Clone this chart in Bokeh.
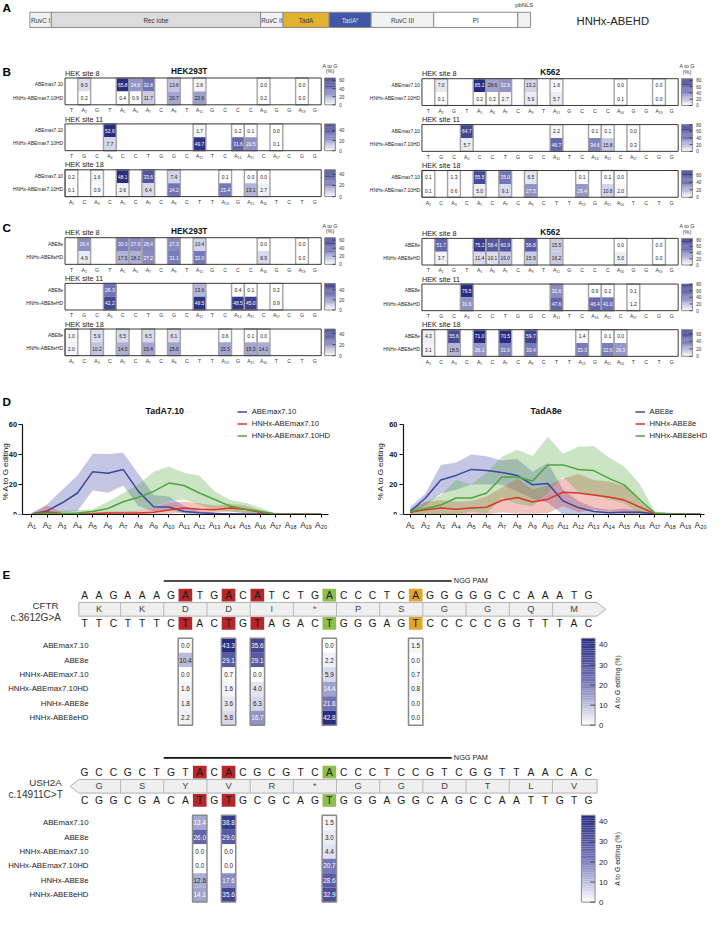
import math
from bokeh.plotting import figure
from bokeh.models import Range1d, FixedTicker, Legend, LegendItem, Label, ColumnDataSource
from bokeh.layouts import column, row
from bokeh.core.properties import value
from bokeh.embed import file_html
from bokeh.resources import INLINE

# ======================= DATA =======================
# Panel A: construct schematic
domain_names = ["RuvC I", "Rec lobe", "RuvC II", "TadA", "TadA*", "RuvC III", "PI", ""]
domain_lengths = [22, 214, 23, 47, 43, 64, 86, 13]
domain_colors = ["#f2f2f2", "#dcdcdc", "#f2f2f2", "#e2b12f", "#3f57a6", "#f2f2f2", "#ffffff", "#f2f2f2"]
construct_name = "HNHx-ABEHD"

# Panels B/C: target sites
site_names = ["HEK site 8", "HEK site 11", "HEK site 18"]
site_seqs = ["TAGTAAACATAGCCCAGGAG", "TGCACCTGGCATCAACACGG", "ACACACACACTTAGAATCTG"]

b_rows = ["ABEmax7.10", "HNHx-ABEmax7.10HD"]
c_rows = ["ABE8e", "HNHx-ABE8eHD"]

b_hek293t_abemax = [[8.0, 65.8, 24.8, 32.8, 13.6, 2.8, 0.0, 0.0],
                    [52.6, 1.7, 0.2, 0.1, 0.0],
                    [0.2, 1.6, 48.1, 33.6, 7.4, 0.1, 0.0, 0.0]]
b_hek293t_hd = [[0.2, 0.4, 0.9, 11.7, 20.7, 22.6, 0.2, 0.0],
                [7.7, 49.7, 31.6, 20.5, 0.1],
                [0.1, 0.9, 2.6, 6.4, 24.2, 23.4, 13.1, 2.7]]
b_k562_abemax = [[7.0, 85.2, 28.6, 32.8, 13.2, 1.8, 0.0, 0.0],
                 [64.7, 2.2, 0.1, 0.1, 0.0],
                 [0.1, 1.3, 55.5, 35.0, 6.5, 0.1, 0.1, 0.0]]
b_k562_hd = [[0.1, 0.2, 0.3, 2.7, 5.9, 5.7, 0.1, 0.0],
             [5.7, 46.7, 34.6, 15.8, 0.3],
             [0.1, 0.6, 5.0, 9.1, 27.5, 26.4, 10.8, 2.0]]
c_hek293t_abe8e = [[26.4, 30.3, 27.9, 28.4, 27.3, 10.4, 0.0, 0.0],
                   [26.3, 13.6, 0.4, 0.1, 0.2],
                   [1.0, 5.9, 6.5, 6.5, 6.1, 0.6, 0.1, 0.0]]
c_hek293t_hd = [[4.9, 17.5, 18.2, 27.2, 31.1, 32.0, 8.9, 0.0],
                [42.2, 49.5, 48.5, 45.0, 0.9],
                [2.0, 10.2, 14.0, 15.4, 15.6, 15.5, 15.3, 14.1]]
c_k562_abe8e = [[51.7, 75.2, 58.4, 60.9, 56.8, 15.5, 0.0, 0.0],
                [79.5, 32.6, 0.9, 0.2, 0.1],
                [4.3, 55.6, 71.0, 70.5, 59.7, 1.4, 0.1, 0.0]]
c_k562_hd = [[3.7, 11.4, 10.1, 16.0, 15.9, 16.2, 5.0, 0.0],
             [31.6, 47.6, 46.4, 41.0, 1.2],
             [3.1, 18.5, 26.1, 32.6, 33.4, 33.3, 32.6, 26.3]]

# Panel D: editing windows (mean with range band)
d_positions = [1, 2, 3, 4, 5, 6, 7, 8, 9, 10, 11, 12, 13, 14, 15, 16, 17, 18, 19, 20]
t7_abemax_mean = [0.4, 2.4, 7.8, 14.3, 28.5, 27.4, 30.0, 15.4, 5.2, 5.0, 2.0, 1.1, 0.6, 0.5, 0.4, 0.3, 0.2, 0.2, 0.1, 0.1]
t7_abemax_low = [0.0, 0.0, 1.3, 2.4, 16.0, 14.5, 19.3, 5.6, 2.0, 3.5, 0.5, 0.2, 0.1, 0.1, 0.1, 0.0, 0.0, 0.0, 0.0, 0.0]
t7_abemax_high = [1.0, 6.7, 16.5, 26.0, 40.4, 40.2, 41.0, 27.0, 13.0, 12.0, 5.6, 2.2, 1.2, 1.0, 1.0, 0.8, 0.5, 0.8, 0.5, 0.4]
t7_hnhx_mean = [0.3, 1.8, 0.5, 0.3, 0.5, 1.0, 1.0, 1.0, 1.5, 3.0, 4.3, 3.5, 3.2, 4.3, 3.5, 1.5, 0.3, 0.2, 0.1, 0.1]
t7_hnhx_low = [0.0, 0.0, 0.0, 0.0, 0.0, 0.2, 0.2, 0.2, 0.3, 0.5, 1.5, 1.0, 1.0, 2.0, 1.0, 0.3, 0.0, 0.0, 0.0, 0.0]
t7_hnhx_high = [0.6, 6.0, 1.5, 1.0, 1.5, 1.8, 2.0, 2.5, 4.5, 8.0, 8.5, 7.5, 6.0, 7.0, 6.0, 3.0, 0.6, 0.5, 0.3, 0.3]
t7_hd_mean = [0.3, 0.8, 0.5, 1.0, 2.0, 4.0, 8.5, 11.5, 15.4, 20.9, 19.3, 14.3, 10.0, 5.7, 3.5, 2.0, 0.3, 0.2, 0.1, 0.1]
t7_hd_low = [0.0, 0.0, 0.0, 0.0, 0.0, 0.5, 1.5, 2.0, 4.5, 9.0, 10.0, 6.5, 3.0, 2.0, 0.8, 0.3, 0.0, 0.0, 0.0, 0.0]
t7_hd_high = [0.6, 1.5, 2.5, 3.0, 3.5, 8.5, 14.3, 20.0, 28.5, 32.0, 27.8, 25.9, 15.4, 9.6, 7.8, 4.6, 0.7, 0.4, 0.3, 0.3]

t8_abe8e_mean = [2.0, 11.0, 23.0, 26.0, 30.0, 29.3, 28.0, 26.0, 19.8, 20.7, 9.0, 4.6, 2.0, 1.2, 1.5, 1.5, 0.5, 0.3, 0.3, 0.2]
t8_abe8e_low = [0.0, 6.0, 14.0, 16.5, 20.0, 20.0, 20.0, 15.4, 10.6, 7.8, 0.0, 0.0, 0.0, 0.0, 0.0, 0.0, 0.0, 0.0, 0.0, 0.0]
t8_abe8e_high = [5.0, 14.0, 33.0, 34.6, 40.0, 38.7, 36.0, 37.0, 28.5, 34.3, 16.5, 9.0, 4.6, 3.0, 4.0, 2.5, 1.0, 1.0, 1.0, 0.5]
t8_hnhx_mean = [1.5, 3.2, 4.3, 3.5, 4.3, 4.8, 9.5, 11.3, 8.3, 10.2, 14.8, 14.3, 13.0, 11.7, 9.6, 5.0, 0.5, 0.3, 0.2, 0.2]
t8_hnhx_low = [0.0, 0.0, 0.0, 0.0, 0.0, 0.0, 1.5, 0.5, 0.5, 1.0, 5.5, 1.5, 3.0, 2.0, 0.5, 0.5, 0.0, 0.0, 0.0, 0.0]
t8_hnhx_high = [3.0, 8.5, 9.5, 8.5, 9.0, 12.0, 18.0, 24.0, 16.5, 19.5, 24.0, 27.0, 23.0, 22.0, 19.0, 9.0, 1.0, 0.6, 0.5, 0.4]
t8_hd_mean = [2.0, 4.0, 6.3, 11.0, 11.0, 14.3, 25.0, 25.0, 22.3, 33.0, 33.0, 30.0, 29.2, 24.0, 19.7, 10.0, 1.0, 0.5, 0.3, 0.2]
t8_hd_low = [0.0, 0.0, 0.0, 0.0, 2.0, 0.5, 11.5, 7.0, 5.5, 14.5, 25.0, 15.0, 13.0, 10.0, 7.5, 0.0, 0.0, 0.0, 0.0, 0.0]
t8_hd_high = [4.0, 8.0, 13.0, 23.0, 20.0, 28.0, 38.5, 43.0, 39.0, 51.5, 40.5, 45.0, 45.5, 38.0, 32.0, 20.5, 2.0, 1.0, 0.5, 0.5]

# Panel E: disease alleles
e_rows = ["ABEmax7.10", "ABE8e", "HNHx-ABEmax7.10", "HNHx-ABEmax7.10HD", "HNHx-ABE8e", "HNHx-ABE8eHD"]
cftr_name = "CFTR"
cftr_mut = "c.3612G>A"
cftr_seq = "AAGAAAGATGACATCTGACCCTCAGGGGGCCAAATG"
cftr_aa = "KKDDI*PSGGQM"
cftr_strand = "+"
cftr_protospacer = [7, 26]
cftr_marks = [8, 11, 13, 18, 24]
cftr_mark_kind = ["bystander", "bystander", "bystander", "target", "other"]
cftr_values = [[0.0, 43.3, 35.6, 0.0, 1.5],
               [10.4, 29.1, 29.1, 2.2, 0.0],
               [0.0, 0.7, 0.0, 5.9, 0.7],
               [1.6, 1.6, 4.0, 14.4, 0.8],
               [1.8, 3.6, 6.3, 21.6, 0.0],
               [2.2, 5.8, 16.7, 42.8, 0.0]]
ush2a_name = "USH2A"
ush2a_mut = "c.14911C>T"
ush2a_seq = "GCCGCTGTACACGCGTCACCCTCCGTCGGTTAACAC"
ush2a_aa = "GSYVR*GGDTLV"
ush2a_strand = "-"
ush2a_protospacer = [7, 26]
ush2a_marks = [9, 11, 18]
ush2a_mark_kind = ["bystander", "bystander", "target"]
ush2a_values = [[13.4, 38.8, 1.5],
                [26.0, 29.0, 3.0],
                [0.0, 0.0, 4.4],
                [0.0, 0.0, 20.7],
                [12.6, 17.6, 28.6],
                [14.1, 35.6, 32.9]]

# ======================= HELPERS =======================
S = 709 / 725.0
FONT = "Liberation Sans"
MARK_COLORS = {"bystander": "#b5272a", "target": "#8dc04b", "other": "#e2a52b"}


def W(v):
    return int(round(v * S))


def fs(v):
    return "%.2fpx" % (v * S)


SUBS = "\u2080\u2081\u2082\u2083\u2084\u2085\u2086\u2087\u2088\u2089"


def sub(n):
    return "".join(SUBS[int(d)] for d in str(n))


STOPS = [(0.0, (255, 255, 255)), (0.5, (112, 115, 182)), (1.0, (40, 44, 128))]


def cmap(t):
    t = max(0.0, min(1.0, t))
    for (t0, c0), (t1, c1) in zip(STOPS, STOPS[1:]):
        if t <= t1:
            u = (t - t0) / (t1 - t0)
            return "#%02x%02x%02x" % tuple(int(round(a + (b - a) * u)) for a, b in zip(c0, c1))
    return "#%02x%02x%02x" % STOPS[-1][1]


def new_fig(w, h, xr, yr):
    p = figure(width=W(w), height=W(h), x_range=Range1d(*xr), y_range=Range1d(*yr),
               output_backend="svg", toolbar_location=None,
               x_axis_type=None, y_axis_type=None,
               min_border_left=0, min_border_right=0, min_border_top=0, min_border_bottom=0)
    p.outline_line_color = None
    p.background_fill_color = "white"
    p.border_fill_color = "white"
    return p


def txt(p, xs, ys, texts, size, color="#222222", align="center", baseline="middle",
        style="normal", angle=0.0):
    data = dict(x=list(xs), y=list(ys), t=list(texts))
    kw = {}
    if isinstance(color, (list, tuple)):
        data["c"] = list(color)
        kw["text_color"] = "c"
    else:
        kw["text_color"] = color
    p.text(x="x", y="y", text="t", source=ColumnDataSource(data), text_font=value(FONT),
           text_font_size=value(size), text_align=align, text_baseline=baseline,
           text_font_style=style, angle=angle, **kw)


# ======================= PANEL A =======================
pA = new_fig(725, 53, (0, 725), (53, 0))
lefts, rights = [], []
cur = 30
for L in domain_lengths:
    lefts.append(cur)
    cur += L
    rights.append(cur)
pA.quad(left=lefts, right=rights, top=[12] * len(lefts), bottom=[27.5] * len(lefts),
        fill_color=domain_colors, line_color="#8c8c8c", line_width=1)
lab_x = [(l + r) / 2 for l, r, n in zip(lefts, rights, domain_names) if n]
lab_t = [n for n in domain_names if n]
lab_c = ["#dddddd" if n == "TadA*" else "#333333" for n in lab_t]
txt(pA, lab_x, [20] * len(lab_x), lab_t, fs(6.5), color=lab_c)
txt(pA, [(lefts[-1] + rights[-1]) / 2], [4.5], ["pbNLS"], fs(6), color="#333333")
txt(pA, [589], [20.5], [construct_name], fs(11.5), color="#222222", align="left")
txt(pA, [2], [7.5], ["A"], fs(12), color="#000000", align="left", style="bold")

# ======================= PANELS B / C =======================
BH = 27.3
CW = 13.1


def heat_panel(xl, xr, yt, yb, bx0, letter, letter_y, title, title_x, box_tops,
               row_names, vals1, vals2, cmaxs):
    def cx(px):
        return (px - bx0) / CW + 0.5

    p = new_fig(xr - xl, yb - yt, (cx(xl), cx(xr)), (yb, yt))
    rh = BH / 2.0
    if letter:
        txt(p, [cx(2)], [letter_y], [letter], fs(12), color="#000000", align="left", style="bold")
    txt(p, [cx(title_x)], [box_tops[0] - 7], [title], fs(8.5), color="#111111", style="bold")
    cb_l = bx0 + 20 * CW + 3.5
    cb_r = cb_l + 11
    txt(p, [cx((cb_l + cb_r) / 2)] * 2, [box_tops[0] - 12.5, box_tops[0] - 7],
        ["A to G", "(%)"], fs(5.5), color="#333333")

    cl, cr, ct, cb, cc = [], [], [], [], []
    tx, ty, tt, tc = [], [], [], []
    ol, orr, ot, ob = [], [], [], []
    gl, gr, gt, gb, gc = [], [], [], [], []
    kx0, kx1, ky = [], [], []
    kl_x, kl_y, kl_t = [], [], []
    sx, sy, st = [], [], []
    for k in range(len(site_seqs)):
        top = box_tops[k]
        bot = top + BH
        seq = site_seqs[k]
        apos = [i + 1 for i, ch in enumerate(seq) if ch == "A"]
        cmax = cmaxs[k]
        for r, vals in enumerate((vals1[k], vals2[k])):
            for pos, v in zip(apos, vals):
                frac = v / cmax
                cl.append(pos - 0.5)
                cr.append(pos + 0.5)
                ct.append(top + r * rh)
                cb.append(top + (r + 1) * rh)
                cc.append(cmap(frac))
                tx.append(pos)
                ty.append(top + (r + 0.5) * rh)
                tt.append("%.1f" % v)
                tc.append("#ffffff" if frac > 0.36 else "#222222")
        for pos in apos:
            ol.append(pos - 0.5)
            orr.append(pos + 0.5)
            ot.append(top)
            ob.append(bot)
        for i, ch in enumerate(seq):
            sx.append(i + 1)
            sy.append(bot + 5.5)
            st.append(ch + sub(i + 1) if ch == "A" else ch)
        N = 30
        for j in range(N):
            gl.append(cx(cb_l))
            gr.append(cx(cb_r))
            gb.append(bot - j * BH / N)
            gt.append(bot - (j + 1) * BH / N)
            gc.append(cmap((j + 0.5) / N))
        t = 0
        while t <= cmax + 1:
            yy = bot - min(t / cmax, 1.0) * BH
            kx0.append(cx(cb_r - 3))
            kx1.append(cx(cb_r))
            ky.append(yy)
            kl_x.append(cx(cb_r + 4))
            kl_y.append(yy)
            kl_t.append(str(t))
            t += 20
    p.quad(left=cl, right=cr, top=ct, bottom=cb, fill_color=cc, line_color=None)
    p.quad(left=ol, right=orr, top=ot, bottom=ob, fill_color=None, line_color="#a3a3a3", line_width=1.4)
    tops = list(box_tops)
    p.quad(left=[0.5] * 3, right=[20.5] * 3, top=tops, bottom=[t0 + BH for t0 in tops],
           fill_color=None, line_color="#3a3a3a", line_width=1)
    p.quad(left=gl, right=gr, top=gt, bottom=gb, fill_color=gc, line_color=None)
    p.quad(left=[cx(cb_l)] * 3, right=[cx(cb_r)] * 3, top=tops, bottom=[t0 + BH for t0 in tops],
           fill_color=None, line_color="#8a8a8a", line_width=1)
    p.segment(x0=kx0, y0=ky, x1=kx1, y1=ky, line_color="#333333", line_width=0.8)
    txt(p, kl_x, kl_y, kl_t, fs(4.6), color="#333333", align="left")
    txt(p, tx, ty, tt, fs(5), color=tc)
    txt(p, sx, sy, st, fs(5.2), color="#333333")
    txt(p, [cx(bx0)] * 3, [t0 - 5 for t0 in tops], site_names, fs(7.5), color="#222222", align="left")
    rx, ry, rt = [], [], []
    for t0 in tops:
        for r, name in enumerate(row_names):
            rx.append(cx(bx0 - 2))
            ry.append(t0 + (r + 0.5) * rh)
            rt.append(name)
    txt(p, rx, ry, rt, fs(5), color="#222222", align="right")
    return p


hek_cmax = [max(b_hek293t_abemax[k] + b_hek293t_hd[k] + c_hek293t_abe8e[k] + c_hek293t_hd[k]) for k in range(3)]
k562_cmax = [max(b_k562_abemax[k] + b_k562_hd[k] + c_k562_abe8e[k] + c_k562_hd[k]) for k in range(3)]

b_tops = [81 + 46.8 * k for k in range(3)]
c_tops = [244 + 46.8 * k for k in range(3)]

pBL = heat_panel(0, 360, 55, 212, 66, "B", 74, "HEK293T", 193, b_tops, b_rows,
                 b_hek293t_abemax, b_hek293t_hd, hek_cmax)
pBR = heat_panel(360, 725, 55, 212, 431, None, 0, "K562", 562, [t + 0.7 for t in b_tops], b_rows,
                 b_k562_abemax, b_k562_hd, k562_cmax)
pCL = heat_panel(0, 360, 212, 375, 66, "C", 234, "HEK293T", 193, c_tops, c_rows,
                 c_hek293t_abe8e, c_hek293t_hd, hek_cmax)
pCR = heat_panel(360, 725, 212, 375, 431, None, 0, "K562", 562, [t + 0.7 for t in c_tops], c_rows,
                 c_k562_abe8e, c_k562_hd, k562_cmax)

# ======================= PANEL D =======================
BLUE, RED, GREEN = "#3b47a1", "#d6372b", "#4ea53c"
D_TOP, D_ZERO, D_SIXTY, D_BOT = 375, 527, 435, 570


def line_panel(xl, xr, axis_px, axis_end_px, a1_px, a20_px, title, title_px, leg_px, ylab_px,
               series, letter):
    u = (a20_px - a1_px) / 19.0

    def dx(px):
        return 1 + (px - a1_px) / u

    def dy(py):
        return (D_ZERO - py) / float(D_ZERO - D_SIXTY) * 60

    p = figure(width=W(xr - xl), height=W(D_BOT - D_TOP),
               x_range=Range1d(dx(xl), dx(xr)), y_range=Range1d(0, dy(D_TOP)),
               output_backend="svg", toolbar_location=None,
               min_border_left=0, min_border_right=0,
               min_border_top=0, min_border_bottom=W(D_BOT - D_ZERO))
    p.grid.visible = False
    p.outline_line_color = None
    for name, color, mean, lo, hi in series:
        p.varea(x=d_positions, y1=lo, y2=hi, fill_color=color, fill_alpha=0.3)
    items = []
    for name, color, mean, lo, hi in series:
        r = p.line(x=d_positions, y=mean, line_color=color, line_width=1.5)
        items.append(LegendItem(label=name, renderers=[r]))
    leg = Legend(items=items, location=((leg_px - xl) * S, (D_ZERO - 422) * S + 5.5 - 35),
                 border_line_color=None, background_fill_alpha=0.0,
                 glyph_width=W(10), glyph_height=11, label_height=11, spacing=1,
                 padding=0, margin=0, label_standoff=W(5),
                 label_text_font=FONT, label_text_font_size=fs(7.8), label_text_color="#222222")
    p.add_layout(leg)
    p.xaxis.ticker = FixedTicker(ticks=d_positions)
    p.xaxis.major_label_overrides = {i: "A" + sub(i) for i in d_positions}
    p.xaxis.bounds = (dx(axis_px), dx(axis_end_px))
    p.yaxis.ticker = FixedTicker(ticks=[0, 20, 40, 60])
    p.yaxis.bounds = (0, 60)
    p.yaxis.fixed_location = dx(axis_px)
    for ax in (p.xaxis, p.yaxis):
        ax.major_label_text_font = FONT
        ax.major_label_text_color = "#111111"
        ax.axis_line_color = "#111111"
        ax.axis_line_width = 1.2
        ax.major_tick_line_color = "#111111"
        ax.major_tick_in = 0
        ax.minor_tick_line_color = None
        ax.major_label_standoff = 2
    p.xaxis.major_label_text_font_size = fs(8.5)
    p.xaxis.major_tick_out = 3
    p.yaxis.major_label_text_font_size = fs(7.5)
    p.yaxis.major_label_text_font_style = "bold"
    p.yaxis.major_tick_out = 4
    p.add_layout(Label(x=dx(title_px), y=dy(421), text=title,
                       text_font=FONT, text_font_size=fs(9), text_font_style="bold",
                       text_align="center", text_baseline="middle", text_color="#111111"))
    p.add_layout(Label(x=dx(ylab_px), y=dy(483), text="% A to G editing",
                       angle=math.pi / 2, text_font=FONT, text_font_size=fs(8.2),
                       text_align="center", text_baseline="middle", text_color="#111111"))
    if letter:
        p.add_layout(Label(x=dx(2), y=dy(412), text=letter,
                           text_font=FONT, text_font_size=fs(12), text_font_style="bold",
                           text_align="left", text_baseline="middle", text_color="#000000"))
    return p


pDL = line_panel(0, 360, 23, 335, 32, 328, "TadA7.10", 168, 242, 5,
                 [("ABEmax7.10", BLUE, t7_abemax_mean, t7_abemax_low, t7_abemax_high),
                  ("HNHx-ABEmax7.10", RED, t7_hnhx_mean, t7_hnhx_low, t7_hnhx_high),
                  ("HNHx-ABEmax7.10HD", GREEN, t7_hd_mean, t7_hd_low, t7_hd_high)], "D")
pDR = line_panel(360, 725, 412, 720, 419, 716, "TadA8e", 558, 649, 389,
                 [("ABE8e", BLUE, t8_abe8e_mean, t8_abe8e_low, t8_abe8e_high),
                  ("HNHx-ABE8e", RED, t8_hnhx_mean, t8_hnhx_low, t8_hnhx_high),
                  ("HNHx-ABE8eHD", GREEN, t8_hd_mean, t8_hd_low, t8_hd_high)], None)

# ======================= PANEL E =======================
E_X0 = 86.0
NTW = 14.72


def ntx(px):
    return (px - E_X0) / NTW + 1


pE = new_fig(725, 359, (ntx(0), ntx(725)), (929, 570))
txt(pE, [ntx(2)], [588], ["E"], fs(12), color="#000000", align="left", style="bold")

COMP = {"A": "T", "T": "A", "G": "C", "C": "G"}
all_e = [v for rowv in cftr_values + ush2a_values for v in rowv]
e_max = max(all_e)

genes = [(cftr_name, cftr_mut, cftr_seq, cftr_aa, cftr_strand, cftr_protospacer, cftr_marks,
          cftr_mark_kind, cftr_values, 0.0),
         (ush2a_name, ush2a_mut, ush2a_seq, ush2a_aa, ush2a_strand, ush2a_protospacer, ush2a_marks,
          ush2a_mark_kind, ush2a_values, 181.0)]

for name, mut, seq, aa, strand, proto, marks, kinds, vals, b in genes:
    n = len(seq)
    pE.segment(x0=[proto[0] - 0.5], y0=[595 + b], x1=[proto[1] + 0.5], y1=[595 + b],
               line_color="#111111", line_width=1.6)
    txt(pE, [proto[1] + 0.5 + 0.15], [594.5 + b], ["NGG PAM"], fs(7.5), color="#222222", align="left")
    mc = [MARK_COLORS[k] for k in kinds]
    pE.rect(x=marks, y=[609.5 + b] * len(marks), width=0.95, height=13, fill_color=mc, line_color=None)
    pE.rect(x=marks, y=[638.5 + b] * len(marks), width=0.95, height=13, fill_color=mc, line_color=None)
    pos = list(range(1, n + 1))
    txt(pE, pos, [609.5 + b] * n, list(seq), fs(10.5), color="#1a1a1a")
    txt(pE, pos, [638.5 + b] * n, [COMP[c] for c in seq], fs(10.5), color="#1a1a1a")
    t_, m_, b_ = 617 + b, 624 + b, 631 + b
    if strand == "+":
        px_ = [0.6, n + 0.6, n + 1.2, n + 0.6, 0.6]
        py_ = [t_, t_, m_, b_, b_]
    else:
        px_ = [0.6, n + 0.6, n + 0.6, 0.6, 0.0]
        py_ = [t_, t_, b_, b_, m_]
    pE.patch(px_, py_, fill_color="#efefef", line_color="#b0b0b0", line_width=1)
    seps = [3.5 + 3 * k for k in range(len(aa) - 1)]
    pE.segment(x0=seps, y0=[t_] * len(seps), x1=seps, y1=[b_] * len(seps), line_color="#b8b8b8", line_width=1)
    aa_x = [2 + 3 * k for k in range(len(aa))]
    aa_c = ["#c0282d" if a == "*" else "#444444" for a in aa]
    txt(pE, aa_x, [m_] * len(aa), list(aa), fs(9.5), color=aa_c)
    txt(pE, [ntx(46)], [620.5 + b], [name], fs(10), color="#333333")
    txt(pE, [ntx(36)], [632 + b], [mut], fs(10.3), color="#333333")
    rh = 14.8
    top0 = 653.7 + b
    cl, cr, ct, cbm, cc, tx, ty, tt, tc = [], [], [], [], [], [], [], [], []
    for r, rowv in enumerate(vals):
        for mpos, v in zip(marks, rowv):
            frac = v / e_max
            cl.append(mpos - 0.5)
            cr.append(mpos + 0.5)
            ct.append(top0 + r * rh)
            cbm.append(top0 + (r + 1) * rh)
            cc.append(cmap(frac))
            tx.append(mpos)
            ty.append(top0 + (r + 0.5) * rh)
            tt.append("%.1f" % v)
            tc.append("#ffffff" if frac > 0.3 else "#222222")
    pE.quad(left=cl, right=cr, top=ct, bottom=cbm, fill_color=cc, line_color=None)
    bot0 = top0 + rh * len(vals)
    pE.quad(left=[m - 0.5 for m in marks], right=[m + 0.5 for m in marks],
            top=[top0] * len(marks), bottom=[bot0] * len(marks),
            fill_color=None, line_color="#8a8a8a", line_width=1.5)
    txt(pE, tx, ty, tt, fs(6.5), color=tc)
    txt(pE, [ntx(90)] * len(e_rows), [top0 + (r + 0.5) * rh for r in range(len(e_rows))], e_rows,
        fs(8), color="#222222", align="right")
    N = 50
    cbh = bot0 - top0
    gl = [ntx(594)] * N
    gr = [ntx(608)] * N
    gb = [bot0 - j * cbh / N for j in range(N)]
    gt = [bot0 - (j + 1) * cbh / N for j in range(N)]
    gc = [cmap((j + 0.5) / N) for j in range(N)]
    pE.quad(left=gl, right=gr, top=gt, bottom=gb, fill_color=gc, line_color=None)
    pE.quad(left=[ntx(594)], right=[ntx(608)], top=[top0], bottom=[bot0], fill_color=None,
            line_color="#8a8a8a", line_width=1)
    ticks = [0, 10, 20, 30, 40]
    tys = [bot0 - t / e_max * cbh for t in ticks]
    pE.segment(x0=[ntx(603)] * len(ticks), y0=tys, x1=[ntx(608)] * len(ticks), y1=tys,
               line_color="#333333", line_width=0.8)
    txt(pE, [ntx(612)] * len(ticks), tys, [str(t) for t in ticks], fs(8), color="#222222", align="left")
    txt(pE, [ntx(631)], [(top0 + bot0) / 2], ["A to G editing (%)"], fs(7), color="#222222",
        angle=math.pi / 2)

layout = column(pA, row(pBL, pBR, spacing=0), row(pCL, pCR, spacing=0), row(pDL, pDR, spacing=0), pE,
                spacing=0)

with open("out.html", "w") as f:
    f.write(file_html(layout, INLINE))
